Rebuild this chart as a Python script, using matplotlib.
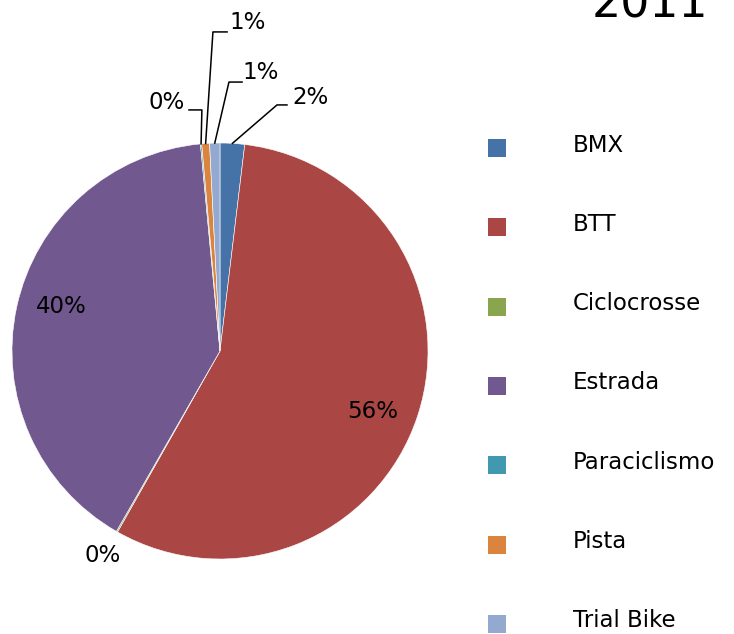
import numpy as np
import matplotlib.pyplot as plt
from matplotlib.patches import Rectangle

# data (percent share, 2011)
categories = ['BMX', 'BTT', 'Ciclocrosse', 'Estrada', 'Paraciclismo', 'Pista', 'Trial Bike']
shares = [1.9, 56.3, 0.1, 40.2, 0.1, 0.6, 0.8]
labels = ['2%', '56%', '0%', '40%', '0%', '1%', '1%']
colors = ['#4572A7', '#AA4643', '#89A54E', '#71588F', '#4198AF', '#DB843D', '#93A9CF']

W, H = 734, 634
fig = plt.figure(figsize=(W / 100, H / 100), dpi=100)

# pie axes: centre (220, 351) px, radius 208 px
cx, cy, r = 220, 351, 208
ax = fig.add_axes([(cx - r) / W, (H - cy - r) / H, 2 * r / W, 2 * r / H])
wedges, _ = ax.pie(shares, colors=colors, startangle=90, counterclock=False,
                   wedgeprops=dict(edgecolor='white', linewidth=0.4))
ax.set_xlim(-1, 1)
ax.set_ylim(-1, 1)
ax.set_aspect('equal')
ax.axis('off')

font = 'DejaVu Sans'
fs = 16.5

# mid angles of each wedge
total = sum(shares)
cum = np.cumsum([0] + shares)
mids = [np.deg2rad(90 - 360 * (cum[i] + cum[i + 1]) / 2 / total) for i in range(len(shares))]

# big wedges: labels inside (slightly rotated clockwise from the mid angle)
for i in [1, 3]:
    a = mids[i] - np.deg2rad(3.3)
    ax.text(0.79 * np.cos(a), 0.79 * np.sin(a), labels[i], ha='center', va='center',
            fontsize=fs, family=font)

# Ciclocrosse: outside, no leader
a = mids[2]
ax.text(1.1 * np.cos(a) - 0.02, 1.1 * np.sin(a) - 0.03, labels[2], ha='center', va='center',
        fontsize=fs, family=font)

# small wedges at the top: leader lines
# (elbow x, elbow y, end x, text x, text y, text alignment)
leaders = {
    0: (0.274, 1.183, 0.322, 0.346, 1.221, 'left'),
    4: (-0.087, 1.159, -0.149, -0.170, 1.197, 'right'),
    5: (-0.034, 1.534, 0.034, 0.044, 1.577, 'left'),
    6: (0.043, 1.293, 0.106, 0.110, 1.337, 'left'),
}
for i, (ex, ey, endx, tx, ty, ha) in leaders.items():
    a = mids[i]
    px, py = np.cos(a), np.sin(a)
    ax.plot([px, ex, endx], [py, ey, ey], color='black', lw=1.1, clip_on=False)
    ax.text(tx, ty, labels[i], ha=ha, va='center', fontsize=fs, family=font)

# title, partly cut off at the top
fig.text(650 / W, 1 - 18 / H, '2011', ha='center', va='baseline', fontsize=33, family=font)

# legend
for k, (name, c) in enumerate(zip(categories, colors)):
    y = 147 + k * 79.3
    fig.patches.append(Rectangle((488 / W, 1 - (y + 10) / H), 18 / W, 18 / H,
                                 transform=fig.transFigure, facecolor=c, edgecolor='none'))
    fig.text(573 / W, 1 - (y - 2) / H, name, ha='left', va='center', fontsize=fs, family=font)

fig.savefig('out.png', dpi=100)
